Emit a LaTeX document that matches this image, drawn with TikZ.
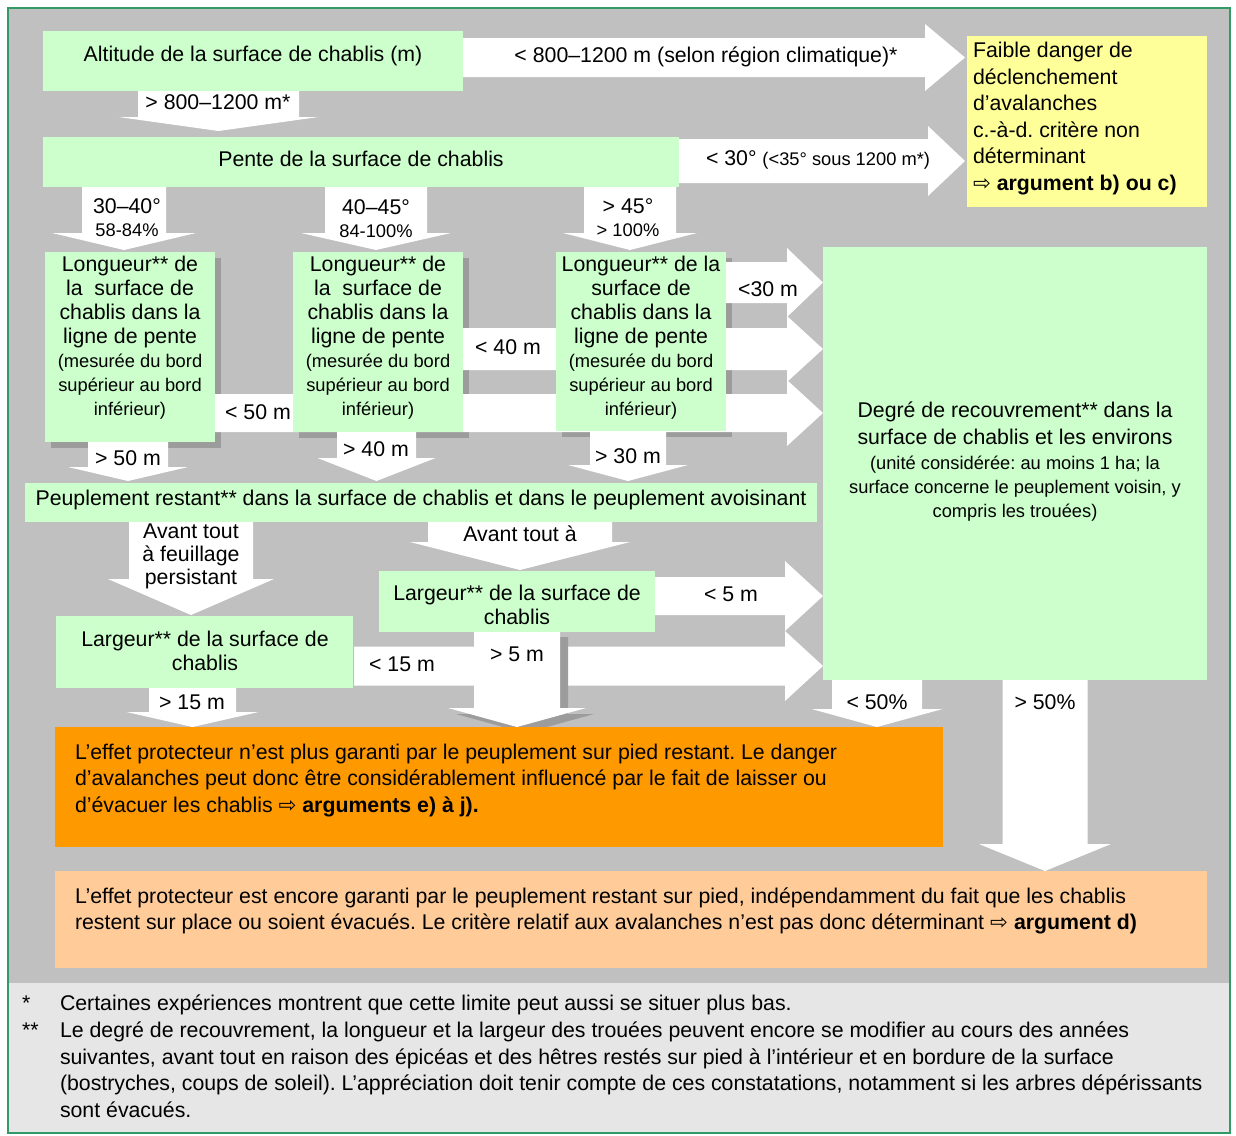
\documentclass[tikz,border=0pt]{standalone}
\usepackage{fontspec}
\setmainfont{Liberation Sans}
\newfontfamily\symfont{DejaVu Sans}
\definecolor{bgc}{HTML}{C0C0C0}
\definecolor{greenc}{HTML}{CCFFCC}
\definecolor{yellowc}{HTML}{FFFF99}
\definecolor{orangec}{HTML}{FF9900}
\definecolor{peachc}{HTML}{FFCC99}
\definecolor{framec}{HTML}{339966}
\definecolor{shadowc}{HTML}{9C9C9C}
\definecolor{notebg}{HTML}{E6E6E6}
\frenchspacing
\newcommand\fBig{\fontsize{21.3}{24}\selectfont}
\newcommand\fSmall{\fontsize{18.3}{24}\selectfont}
\newcommand\symarr{{\symfont ⇨}}
% right block arrow: x start, head back x, tip x, y centre, body half, head half
\newcommand\blockR[7][arrowfill]{\fill[#1] (#2,{#5-#6}) -- (#3,{#5-#6}) -- (#3,{#5-#7}) -- (#4,#5) -- (#3,{#5+#7}) -- (#3,{#5+#6}) -- (#2,{#5+#6}) -- cycle;}
% down block arrow: y start, head back y, tip y, x centre, body half, head half
\newcommand\blockD[7][arrowfill]{\fill[#1] ({#5-#6},#2) -- ({#5-#6},#3) -- ({#5-#7},#3) -- (#5,#4) -- ({#5+#7},#3) -- ({#5+#6},#3) -- ({#5+#6},#2) -- cycle;}
\newcommand\boxat[6]{\node[fill=#2,minimum width={#5pt-#3pt},minimum height={#6pt-#4pt},inner sep=0pt,outer sep=0pt,anchor=north west] (#1) at (#3,#4) {};}
\begin{document}
\begin{tikzpicture}[x=1pt,y=-1pt,
  arrowfill/.style={fill=white},
  shadowfill/.style={fill=shadowc},
  lbl/.style={inner sep=0pt,outer sep=0pt,font=\fBig,align=center},
  lbll/.style={inner sep=0pt,outer sep=0pt,font=\fBig,align=left},
]
\useasboundingbox (0,0) rectangle (1236,1135);
\fill[white] (0,0) rectangle (1236,1135);
\fill[bgc] (8,8) rectangle (1230,983);
\fill[notebg] (8,983) rectangle (1230,1133);
\draw[framec,line width=2pt] (8,8) rectangle (1230,1133);

% shadows of the length boxes
\fill[shadowc] (51,258) rectangle (221,448);
\fill[shadowc] (299,258) rectangle (469,438);
\fill[shadowc] (562,258) rectangle (732,437);

% right arrows
\blockR{463}{925}{965}{57.5}{19.5}{33.5}
\blockR{679}{928}{965}{161}{22}{35}
\blockR{726}{787}{823}{282.5}{20.5}{34.5}
\blockR{463}{787}{823}{349}{21}{33}
\blockR{215}{787}{823}{413}{19}{33}
\blockR{655}{785}{823}{596}{19}{35}
\blockR{354}{785}{823}{666}{19.5}{35}

% down arrows
\blockD{91}{117}{131}{218.5}{80.5}{100}
\blockD{187}{233}{250}{124}{42}{72}
\blockD{187}{233}{250}{376}{51}{75}
\blockD{187}{233}{250}{630}{46}{67}
\blockD{442}{467}{481}{128}{40}{60}
\blockD{432}{458}{481}{376.5}{39.5}{59}
\blockD{431}{465}{481}{628}{38}{60}
\blockD{522}{579}{615}{191}{62}{83}
\blockD{522}{542}{570}{520}{92}{110}
\blockD{688}{712}{727}{192.5}{43.5}{66}
\blockD[shadowfill]{637}{714}{733}{525}{43}{69}
\blockD{631}{708}{727}{517}{43}{69}
\blockD{679}{709}{727}{877}{45}{65.5}
\blockD{679}{844}{871}{1045}{42.5}{66}

% boxes
\boxat{alt}{greenc}{43}{31}{463}{91}
\boxat{pente}{greenc}{43}{137}{679}{187}
\boxat{faible}{yellowc}{967}{36}{1207}{207}
\boxat{long1}{greenc}{45}{252}{215}{442}
\boxat{long2}{greenc}{293}{252}{463}{432}
\boxat{long3}{greenc}{556}{252}{726}{431}
\boxat{degre}{greenc}{823}{247}{1207}{680}
\boxat{peup}{greenc}{25}{483}{817}{522}
\boxat{larg2}{greenc}{379}{571}{655}{632}
\boxat{larg1}{greenc}{56}{616}{353}{688}
\boxat{orangeb}{orangec}{55}{727}{943}{847}
\boxat{peachb}{peachc}{55}{871}{1207}{968}

% texts in boxes
\node[lbl] (altT) at (253,56) {Altitude de la surface de chablis (m)};
\node[lbl] (penteT) at (361,159) {Pente de la surface de chablis};
\node[lbll,font=\fontsize{21.3}{26.6}\selectfont,anchor=west] (faibleT) at (973,118.5)
  {Faible danger de\\déclenchement\\d’avalanches\\c.-à-d. critère non\\déterminant\\\symarr\ \textbf{argument b) ou c)}};
\node[lbl] (long1T) at (130,337.6) {Longueur** de\\la\ \ surface de\\chablis dans la\\ligne de pente\\{\fSmall (mesurée du bord}\\{\fSmall supérieur au bord}\\{\fSmall inférieur)}};
\node[lbl] (long2T) at (378,337.6) {Longueur** de\\la\ \ surface de\\chablis dans la\\ligne de pente\\{\fSmall (mesurée du bord}\\{\fSmall supérieur au bord}\\{\fSmall inférieur)}};
\node[lbl] (long3T) at (641,337.6) {Longueur** de la\\surface de\\chablis dans la\\ligne de pente\\{\fSmall (mesurée du bord}\\{\fSmall supérieur au bord}\\{\fSmall inférieur)}};
\node[lbl,font=\fontsize{21.3}{27}\selectfont] (degreT) at (1015,423) {Degré de recouvrement** dans la\\surface de chablis et les environs};
\node[lbl,font=\fSmall] (degreS) at (1015,488.6) {(unité considérée: au moins 1 ha; la\\surface concerne le peuplement voisin, y\\compris les trouées)};
\node[lbl] (peupT) at (421,500) {Peuplement restant** dans la surface de chablis et dans le peuplement avoisinant};
\node[lbl] (larg2T) at (517,605) {Largeur** de la surface de\\chablis};
\node[lbl] (larg1T) at (205,651) {Largeur** de la surface de\\chablis};
\node[lbll,font=\fontsize{21.3}{26.5}\selectfont,anchor=west] (orangeT) at (75,780.5)
  {L’effet protecteur n’est plus garanti par le peuplement sur pied restant. Le danger\\d’avalanches peut donc être considérablement influencé par le fait de laisser ou\\d’évacuer les chablis \symarr\ \textbf{arguments e) à j).}};
\node[lbll,font=\fontsize{21.3}{26}\selectfont,anchor=west] (peachT) at (75,911)
  {L’effet protecteur est encore garanti par le peuplement restant sur pied, indépendamment du fait que les chablis\\restent sur place ou soient évacués. Le critère relatif aux avalanches n’est pas donc déterminant \symarr\ \textbf{argument d)}};

% arrow labels
\node[lbl] (a1T) at (706,57) {< 800–1200 m (selon région climatique)*};
\node[lbl] (d1T) at (218,102) {> 800–1200 m*};
\node[lbl] (a2T) at (818,160) {< 30° {\fSmall (<35° sous 1200 m*)}};
\node[lbl,font=\fontsize{21.3}{23}\selectfont] (d2T) at (127,218) {30–40°\\{\fSmall 58-84\%}};
\node[lbl,font=\fontsize{21.3}{23}\selectfont] (d3T) at (376,219) {40–45°\\{\fSmall 84-100\%}};
\node[lbl,font=\fontsize{21.3}{23}\selectfont] (d4T) at (628,218) {> 45°\\{\fSmall > 100\%}};
\node[lbl] (a30T) at (768,289) {<30 m};
\node[lbl] (a40T) at (508,347) {< 40 m};
\node[lbl] (a50T) at (258,412) {< 50 m};
\node[lbl] (d50T) at (128,458) {> 50 m};
\node[lbl] (d40T) at (376,449) {> 40 m};
\node[lbl] (d30T) at (628,456) {> 30 m};
\node[lbl,font=\fontsize{21.3}{23}\selectfont] (avT1) at (191,556) {Avant tout\\à feuillage\\persistant};
\node[lbl] (avT2) at (520,534) {Avant tout à};
\node[lbl] (a5T) at (731,594) {< 5 m};
\node[lbl] (a15T) at (402,664) {< 15 m};
\node[lbl] (d5T) at (517,654) {> 5 m};
\node[lbl] (d15T) at (192,702) {> 15 m};
\node[lbl] (dlt50T) at (877,702) {< 50\%};
\node[lbl] (dgt50T) at (1045,702) {> 50\%};

% footnotes
\node[lbll,anchor=base west] (st1) at (22,1010.5) {*};
\node[lbll,anchor=base west] (st2) at (22,1037.2) {**};
\node[lbll,font=\fontsize{21.3}{26.7}\selectfont,anchor=west] (fnT) at (60,1056.4)
  {Certaines expériences montrent que cette limite peut aussi se situer plus bas.\\Le degré de recouvrement, la longueur et la largeur des trouées peuvent encore se modifier au cours des années\\suivantes, avant tout en raison des épicéas et des hêtres restés sur pied à l’intérieur et en bordure de la surface\\(bostryches, coups de soleil). L’appréciation doit tenir compte de ces constatations, notamment si les arbres dépérissants\\sont évacués.};
\end{tikzpicture}
\end{document}
